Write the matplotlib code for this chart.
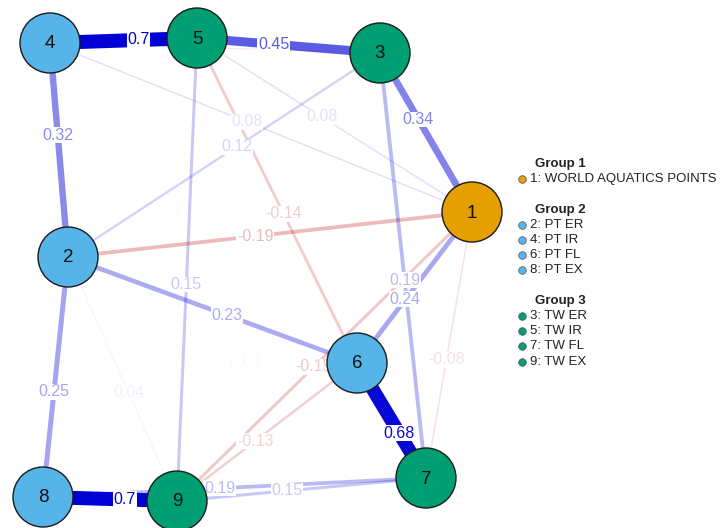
import matplotlib.pyplot as plt
from matplotlib.patches import Circle
from matplotlib.lines import Line2D
import numpy as np

plt.rcParams["font.family"] = ["Liberation Sans", "DejaVu Sans"]

# ── network data ──────────────────────────────────────────────────────────────
node_ids = [1, 2, 3, 4, 5, 6, 7, 8, 9]
node_names = ["WORLD AQUATICS POINTS", "PT ER", "TW ER", "PT IR", "TW IR",
              "PT FL", "TW FL", "PT EX", "TW EX"]
node_group = [1, 2, 3, 2, 3, 2, 3, 2, 3]

edge_from = [4, 3, 1, 2, 1, 1, 2, 5, 1, 5, 2, 3, 1, 1, 6, 6, 1, 8, 2, 2, 1, 7, 7, 3]
edge_to = [5, 5, 3, 4, 4, 5, 3, 6, 2, 9, 6, 7, 6, 9, 9, 7, 7, 9, 8, 9, 8, 8, 9, 4]
edge_weight = [0.70, 0.45, 0.34, 0.32, 0.08, 0.08, 0.12, -0.14, -0.19, 0.15,
               0.23, 0.19, 0.24, -0.15, -0.13, 0.68, -0.08, 0.70, 0.25, 0.04,
               0.02, 0.19, 0.15, -0.06]

group_titles = ["Group 1", "Group 2", "Group 3"]

# ── layout (pixel space) and styling ──────────────────────────────────────────
layout = {1: (472, 212), 2: (68, 257), 3: (380, 53), 4: (50, 43), 5: (197, 38),
          6: (357, 363), 7: (426, 478), 8: (43, 497), 9: (177, 501)}
GROUP_COLORS = {1: "#E69F00", 2: "#56B4E9", 3: "#009E73"}
POS_COL = np.array([0, 0, 213]) / 255
NEG_COL = np.array([191, 0, 0]) / 255
NODE_R = 30
PX = 0.72  # points per pixel at dpi=100

fig = plt.figure(figsize=(7.2, 5.28), dpi=100)
ax = fig.add_axes([0, 0, 1, 1])
ax.set_xlim(0, 720)
ax.set_ylim(528, 0)
ax.axis("off")

max_w = max(abs(w) for w in edge_weight)


def edge_rgba(w):
    base = POS_COL if w > 0 else NEG_COL
    return (*base, min(1.0, abs(w) / max_w))


# weakest edges first so strong ones sit on top
order = sorted(range(len(edge_weight)), key=lambda k: abs(edge_weight[k]))
for k in order:
    a, b, w = edge_from[k], edge_to[k], edge_weight[k]
    (x0, y0), (x1, y1) = layout[a], layout[b]
    ax.plot([x0, x1], [y0, y1], color=edge_rgba(w), lw=20 * abs(w) * PX,
            solid_capstyle="butt", zorder=1)

for k in order:
    a, b, w = edge_from[k], edge_to[k], edge_weight[k]
    (x0, y0), (x1, y1) = layout[a], layout[b]
    d = np.hypot(x1 - x0, y1 - y0)
    # label a bit past the midpoint, toward the second node
    t = 0.5 + 15 / d
    lx, ly = x0 + t * (x1 - x0), y0 + t * (y1 - y0)
    # a label that would sit fully under a node is never seen
    if any(np.hypot(lx - nx, ly - ny) < NODE_R - 8 for nx, ny in layout.values()):
        continue
    ax.text(lx, ly, f"{w:g}", color=edge_rgba(w), fontsize=11.5, ha="center",
            va="center", zorder=2,
            bbox=dict(facecolor="white", edgecolor="none", pad=0.3))

for nid, grp in zip(node_ids, node_group):
    x, y = layout[nid]
    ax.add_patch(Circle((x, y), NODE_R, facecolor=GROUP_COLORS[grp],
                        edgecolor="#1a1a1a", lw=1.0, zorder=3))
    ax.text(x, y + 1, str(nid), fontsize=13.5, ha="center", va="center",
            color="#111111", zorder=4)

# ── grouped legend ────────────────────────────────────────────────────────────
y = 164
for g, title in enumerate(group_titles, start=1):
    ax.text(535, y, title, fontsize=9.5, fontweight="bold", va="center",
            color="#222222")
    y += 15.2
    for nid, name, grp in zip(node_ids, node_names, node_group):
        if grp != g:
            continue
        ax.add_line(Line2D([522], [y], marker="o", markersize=5.5,
                           markerfacecolor=GROUP_COLORS[grp],
                           markeredgecolor="#555555", markeredgewidth=0.5))
        ax.text(530, y, f"{nid}: {name}", fontsize=9.5, va="center",
                color="#222222")
        y += 15.2
    y += 15.2

fig.savefig("out.png", dpi=100)
